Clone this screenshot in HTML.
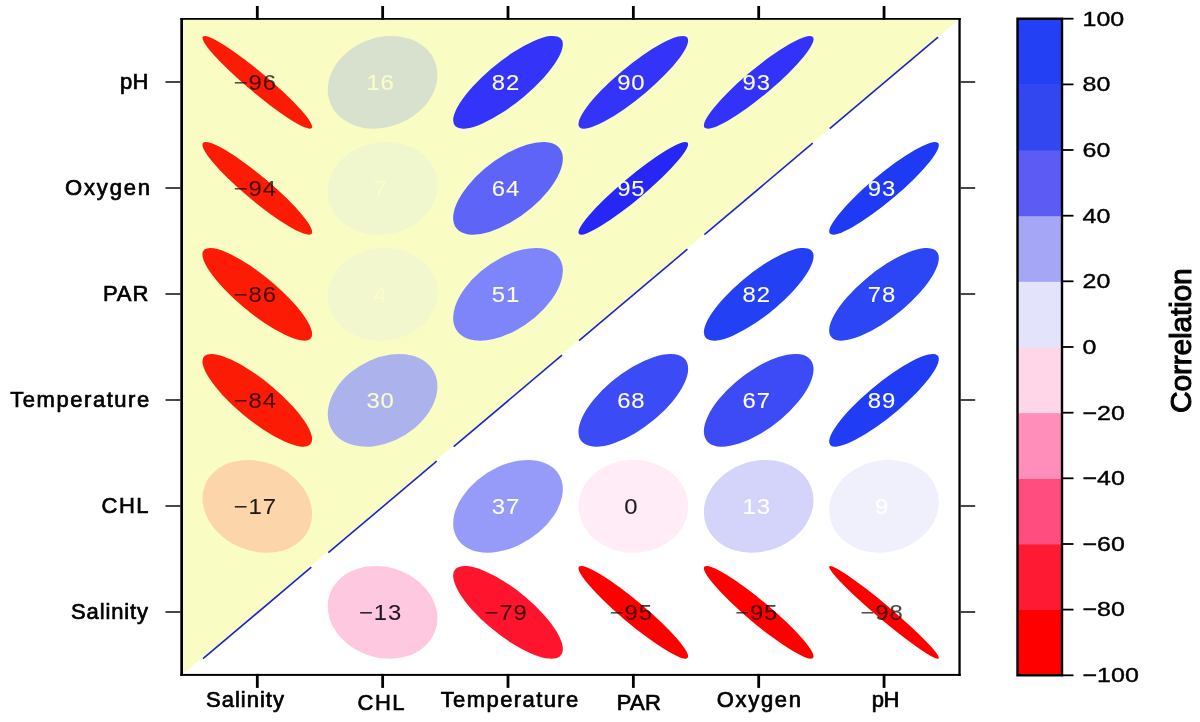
<!DOCTYPE html>
<html><head><meta charset="utf-8"><title>Correlation</title>
<style>html,body{margin:0;padding:0;background:#fff}svg{display:block}</style></head>
<body>
<svg width="1200" height="722" viewBox="0 0 1200 722" font-family="&quot;Liberation Sans&quot;, sans-serif">
<rect width="1200" height="722" fill="#fff"/>
<polygon points="183.0,673.9 183.0,19.8 958.4,19.8" fill="#f9fdc3"/>
<g transform="translate(257.3,82.3) scale(125.35,-106.0) rotate(45)"><ellipse rx="0.0875" ry="0.6125" fill="#fc1c06"/></g>
<g transform="translate(382.6,82.3) scale(125.35,-106.0) rotate(45)"><ellipse rx="0.4712" ry="0.4010" fill="#d7e1cd"/></g>
<g transform="translate(508.0,82.3) scale(125.35,-106.0) rotate(45)"><ellipse rx="0.5902" ry="0.1856" fill="#3333fa"/></g>
<g transform="translate(633.3,82.3) scale(125.35,-106.0) rotate(45)"><ellipse rx="0.6031" ry="0.1383" fill="#3333fa"/></g>
<g transform="translate(758.7,82.3) scale(125.35,-106.0) rotate(45)"><ellipse rx="0.6078" ry="0.1158" fill="#3232fa"/></g>
<g transform="translate(257.3,188.3) scale(125.35,-106.0) rotate(45)"><ellipse rx="0.1072" ry="0.6094" fill="#fc1c06"/></g>
<g transform="translate(382.6,188.3) scale(125.35,-106.0) rotate(45)"><ellipse rx="0.4526" ry="0.4219" fill="#f0f6cd"/></g>
<g transform="translate(508.0,188.3) scale(125.35,-106.0) rotate(45)"><ellipse rx="0.5603" ry="0.2625" fill="#5f64f9"/></g>
<g transform="translate(633.3,188.3) scale(125.35,-106.0) rotate(45)"><ellipse rx="0.6109" ry="0.0978" fill="#2626f6"/></g>
<g transform="translate(884.0,188.3) scale(125.35,-106.0) rotate(45)"><ellipse rx="0.6078" ry="0.1158" fill="#1f3af5"/></g>
<g transform="translate(257.3,294.3) scale(125.35,-106.0) rotate(45)"><ellipse rx="0.1637" ry="0.5967" fill="#fc1c06"/></g>
<g transform="translate(382.6,294.3) scale(125.35,-106.0) rotate(45)"><ellipse rx="0.4462" ry="0.4287" fill="#f2f7cd"/></g>
<g transform="translate(508.0,294.3) scale(125.35,-106.0) rotate(45)"><ellipse rx="0.5376" ry="0.3062" fill="#7e84fa"/></g>
<g transform="translate(758.7,294.3) scale(125.35,-106.0) rotate(45)"><ellipse rx="0.5902" ry="0.1856" fill="#2440f5"/></g>
<g transform="translate(884.0,294.3) scale(125.35,-106.0) rotate(45)"><ellipse rx="0.5837" ry="0.2052" fill="#2d46f5"/></g>
<g transform="translate(257.3,400.3) scale(125.35,-106.0) rotate(45)"><ellipse rx="0.1750" ry="0.5935" fill="#fc1c06"/></g>
<g transform="translate(382.6,400.3) scale(125.35,-106.0) rotate(45)"><ellipse rx="0.4988" ry="0.3660" fill="#acb3ec"/></g>
<g transform="translate(633.3,400.3) scale(125.35,-106.0) rotate(45)"><ellipse rx="0.5671" ry="0.2475" fill="#3b4bf5"/></g>
<g transform="translate(758.7,400.3) scale(125.35,-106.0) rotate(45)"><ellipse rx="0.5654" ry="0.2513" fill="#3c4bf5"/></g>
<g transform="translate(884.0,400.3) scale(125.35,-106.0) rotate(45)"><ellipse rx="0.6015" ry="0.1451" fill="#213cf5"/></g>
<g transform="translate(257.3,506.3) scale(125.35,-106.0) rotate(45)"><ellipse rx="0.3986" ry="0.4732" fill="#fcd6aa"/></g>
<g transform="translate(508.0,506.3) scale(125.35,-106.0) rotate(45)"><ellipse rx="0.5121" ry="0.3473" fill="#969bfa"/></g>
<g transform="translate(633.3,506.3) scale(125.35,-106.0) rotate(45)"><ellipse rx="0.4375" ry="0.4375" fill="#ffecf6"/></g>
<g transform="translate(758.7,506.3) scale(125.35,-106.0) rotate(45)"><ellipse rx="0.4651" ry="0.4081" fill="#d4d4fa"/></g>
<g transform="translate(884.0,506.3) scale(125.35,-106.0) rotate(45)"><ellipse rx="0.4568" ry="0.4173" fill="#f0f0fd"/></g>
<g transform="translate(382.6,612.3) scale(125.35,-106.0) rotate(45)"><ellipse rx="0.4081" ry="0.4651" fill="#ffc8e1"/></g>
<g transform="translate(508.0,612.3) scale(125.35,-106.0) rotate(45)"><ellipse rx="0.2005" ry="0.5853" fill="#ff142d"/></g>
<g transform="translate(633.3,612.3) scale(125.35,-106.0) rotate(45)"><ellipse rx="0.0978" ry="0.6109" fill="#ff0000"/></g>
<g transform="translate(758.7,612.3) scale(125.35,-106.0) rotate(45)"><ellipse rx="0.0978" ry="0.6109" fill="#ff0000"/></g>
<g transform="translate(884.0,612.3) scale(125.35,-106.0) rotate(45)"><ellipse rx="0.0619" ry="0.6156" fill="#ff0000"/></g>
<line x1="203.0" y1="658.7" x2="311.3" y2="567.2" stroke="#1a26c4" stroke-width="1.6"/>
<line x1="328.3" y1="552.7" x2="436.7" y2="461.2" stroke="#1a26c4" stroke-width="1.6"/>
<line x1="453.7" y1="446.7" x2="562.0" y2="355.2" stroke="#1a26c4" stroke-width="1.6"/>
<line x1="579.0" y1="340.7" x2="687.4" y2="249.2" stroke="#1a26c4" stroke-width="1.6"/>
<line x1="704.4" y1="234.7" x2="812.7" y2="143.2" stroke="#1a26c4" stroke-width="1.6"/>
<line x1="829.7" y1="128.7" x2="938.1" y2="37.2" stroke="#1a26c4" stroke-width="1.6"/>
<text transform="translate(255.3,89.7) scale(1.125,1)" text-anchor="middle" font-size="21.2" letter-spacing="0.8" fill="#000000" stroke="#000000" stroke-width="0.1" opacity="0.72">−96</text>
<text transform="translate(380.6,89.7) scale(1.125,1)" text-anchor="middle" font-size="21.2" letter-spacing="0.8" fill="#fafcca" stroke="#fafcca" stroke-width="0.1">16</text>
<text transform="translate(506.0,89.7) scale(1.125,1)" text-anchor="middle" font-size="21.2" letter-spacing="0.8" fill="#fcfce0" stroke="#fcfce0" stroke-width="0.1">82</text>
<text transform="translate(631.3,89.7) scale(1.125,1)" text-anchor="middle" font-size="21.2" letter-spacing="0.8" fill="#fcfce0" stroke="#fcfce0" stroke-width="0.1">90</text>
<text transform="translate(756.7,89.7) scale(1.125,1)" text-anchor="middle" font-size="21.2" letter-spacing="0.8" fill="#fcfce0" stroke="#fcfce0" stroke-width="0.1">93</text>
<text transform="translate(255.3,195.7) scale(1.125,1)" text-anchor="middle" font-size="21.2" letter-spacing="0.8" fill="#000000" stroke="#000000" stroke-width="0.1" opacity="0.72">−94</text>
<text transform="translate(380.6,195.7) scale(1.125,1)" text-anchor="middle" font-size="21.2" letter-spacing="0.8" fill="#fafcca" stroke="#fafcca" stroke-width="0.1">7</text>
<text transform="translate(506.0,195.7) scale(1.125,1)" text-anchor="middle" font-size="21.2" letter-spacing="0.8" fill="#fcfce0" stroke="#fcfce0" stroke-width="0.1">64</text>
<text transform="translate(631.3,195.7) scale(1.125,1)" text-anchor="middle" font-size="21.2" letter-spacing="0.8" fill="#fcfce0" stroke="#fcfce0" stroke-width="0.1">95</text>
<text transform="translate(882.0,195.7) scale(1.125,1)" text-anchor="middle" font-size="21.2" letter-spacing="0.8" fill="#ffffff" stroke="#ffffff" stroke-width="0.1">93</text>
<text transform="translate(255.3,301.7) scale(1.125,1)" text-anchor="middle" font-size="21.2" letter-spacing="0.8" fill="#000000" stroke="#000000" stroke-width="0.1" opacity="0.72">−86</text>
<text transform="translate(380.6,301.7) scale(1.125,1)" text-anchor="middle" font-size="21.2" letter-spacing="0.8" fill="#fafcca" stroke="#fafcca" stroke-width="0.1">4</text>
<text transform="translate(506.0,301.7) scale(1.125,1)" text-anchor="middle" font-size="21.2" letter-spacing="0.8" fill="#fcfce0" stroke="#fcfce0" stroke-width="0.1">51</text>
<text transform="translate(756.7,301.7) scale(1.125,1)" text-anchor="middle" font-size="21.2" letter-spacing="0.8" fill="#ffffff" stroke="#ffffff" stroke-width="0.1">82</text>
<text transform="translate(882.0,301.7) scale(1.125,1)" text-anchor="middle" font-size="21.2" letter-spacing="0.8" fill="#ffffff" stroke="#ffffff" stroke-width="0.1">78</text>
<text transform="translate(255.3,407.7) scale(1.125,1)" text-anchor="middle" font-size="21.2" letter-spacing="0.8" fill="#000000" stroke="#000000" stroke-width="0.1" opacity="0.72">−84</text>
<text transform="translate(380.6,407.7) scale(1.125,1)" text-anchor="middle" font-size="21.2" letter-spacing="0.8" fill="#fafcca" stroke="#fafcca" stroke-width="0.1">30</text>
<text transform="translate(631.3,407.7) scale(1.125,1)" text-anchor="middle" font-size="21.2" letter-spacing="0.8" fill="#ffffff" stroke="#ffffff" stroke-width="0.1">68</text>
<text transform="translate(756.7,407.7) scale(1.125,1)" text-anchor="middle" font-size="21.2" letter-spacing="0.8" fill="#ffffff" stroke="#ffffff" stroke-width="0.1">67</text>
<text transform="translate(882.0,407.7) scale(1.125,1)" text-anchor="middle" font-size="21.2" letter-spacing="0.8" fill="#ffffff" stroke="#ffffff" stroke-width="0.1">89</text>
<text transform="translate(255.3,513.7) scale(1.125,1)" text-anchor="middle" font-size="21.2" letter-spacing="0.8" fill="#000000" stroke="#000000" stroke-width="0.1" opacity="0.88">−17</text>
<text transform="translate(506.0,513.7) scale(1.125,1)" text-anchor="middle" font-size="21.2" letter-spacing="0.8" fill="#ffffff" stroke="#ffffff" stroke-width="0.1">37</text>
<text transform="translate(631.3,513.7) scale(1.125,1)" text-anchor="middle" font-size="21.2" letter-spacing="0.8" fill="#000000" stroke="#000000" stroke-width="0.1" opacity="0.88">0</text>
<text transform="translate(756.7,513.7) scale(1.125,1)" text-anchor="middle" font-size="21.2" letter-spacing="0.8" fill="#ffffff" stroke="#ffffff" stroke-width="0.1">13</text>
<text transform="translate(882.0,513.7) scale(1.125,1)" text-anchor="middle" font-size="21.2" letter-spacing="0.8" fill="#ffffff" stroke="#ffffff" stroke-width="0.1">9</text>
<text transform="translate(380.6,619.7) scale(1.125,1)" text-anchor="middle" font-size="21.2" letter-spacing="0.8" fill="#000000" stroke="#000000" stroke-width="0.1" opacity="0.88">−13</text>
<text transform="translate(506.0,619.7) scale(1.125,1)" text-anchor="middle" font-size="21.2" letter-spacing="0.8" fill="#000000" stroke="#000000" stroke-width="0.1" opacity="0.72">−79</text>
<text transform="translate(631.3,619.7) scale(1.125,1)" text-anchor="middle" font-size="21.2" letter-spacing="0.8" fill="#000000" stroke="#000000" stroke-width="0.1" opacity="0.72">−95</text>
<text transform="translate(756.7,619.7) scale(1.125,1)" text-anchor="middle" font-size="21.2" letter-spacing="0.8" fill="#000000" stroke="#000000" stroke-width="0.1" opacity="0.72">−95</text>
<text transform="translate(882.0,619.7) scale(1.125,1)" text-anchor="middle" font-size="21.2" letter-spacing="0.8" fill="#000000" stroke="#000000" stroke-width="0.1" opacity="0.72">−98</text>
<rect x="180.3" y="18.0" width="2.70" height="657.90" fill="#000"/>
<rect x="958.4" y="18.0" width="2.30" height="657.90" fill="#000"/>
<rect x="180.3" y="18.0" width="780.40" height="1.80" fill="#000"/>
<rect x="180.3" y="673.9" width="780.40" height="2.00" fill="#000"/>
<line x1="257.30" y1="6.0" x2="257.30" y2="19.8" stroke="#000" stroke-width="2.8"/>
<line x1="257.30" y1="673.9" x2="257.30" y2="687.9" stroke="#000" stroke-width="2.8"/>
<line x1="165.5" y1="612.00" x2="180.5" y2="612.00" stroke="#1a1a1a" stroke-width="1.6"/>
<line x1="960.5" y1="612.00" x2="975.2" y2="612.00" stroke="#1a1a1a" stroke-width="1.6"/>
<line x1="382.65" y1="6.0" x2="382.65" y2="19.8" stroke="#000" stroke-width="2.8"/>
<line x1="382.65" y1="673.9" x2="382.65" y2="687.9" stroke="#000" stroke-width="2.8"/>
<line x1="165.5" y1="506.00" x2="180.5" y2="506.00" stroke="#1a1a1a" stroke-width="1.6"/>
<line x1="960.5" y1="506.00" x2="975.2" y2="506.00" stroke="#1a1a1a" stroke-width="1.6"/>
<line x1="508.00" y1="6.0" x2="508.00" y2="19.8" stroke="#000" stroke-width="2.8"/>
<line x1="508.00" y1="673.9" x2="508.00" y2="687.9" stroke="#000" stroke-width="2.8"/>
<line x1="165.5" y1="400.00" x2="180.5" y2="400.00" stroke="#1a1a1a" stroke-width="1.6"/>
<line x1="960.5" y1="400.00" x2="975.2" y2="400.00" stroke="#1a1a1a" stroke-width="1.6"/>
<line x1="633.35" y1="6.0" x2="633.35" y2="19.8" stroke="#000" stroke-width="2.8"/>
<line x1="633.35" y1="673.9" x2="633.35" y2="687.9" stroke="#000" stroke-width="2.8"/>
<line x1="165.5" y1="294.00" x2="180.5" y2="294.00" stroke="#1a1a1a" stroke-width="1.6"/>
<line x1="960.5" y1="294.00" x2="975.2" y2="294.00" stroke="#1a1a1a" stroke-width="1.6"/>
<line x1="758.70" y1="6.0" x2="758.70" y2="19.8" stroke="#000" stroke-width="2.8"/>
<line x1="758.70" y1="673.9" x2="758.70" y2="687.9" stroke="#000" stroke-width="2.8"/>
<line x1="165.5" y1="188.00" x2="180.5" y2="188.00" stroke="#1a1a1a" stroke-width="1.6"/>
<line x1="960.5" y1="188.00" x2="975.2" y2="188.00" stroke="#1a1a1a" stroke-width="1.6"/>
<line x1="884.05" y1="6.0" x2="884.05" y2="19.8" stroke="#000" stroke-width="2.8"/>
<line x1="884.05" y1="673.9" x2="884.05" y2="687.9" stroke="#000" stroke-width="2.8"/>
<line x1="165.5" y1="82.00" x2="180.5" y2="82.00" stroke="#1a1a1a" stroke-width="1.6"/>
<line x1="960.5" y1="82.00" x2="975.2" y2="82.00" stroke="#1a1a1a" stroke-width="1.6"/>
<text transform="translate(71.00,619.20) scale(1.0000,1)" font-size="22" letter-spacing="0.882" fill="#000" stroke="#000" stroke-width="0.7">Salinity</text>
<text transform="translate(206.00,707.00) scale(1.0000,1)" font-size="22" letter-spacing="1.010" fill="#000" stroke="#000" stroke-width="0.7">Salinity</text>
<text transform="translate(101.50,513.20) scale(1.0000,1)" font-size="22" letter-spacing="1.489" fill="#000" stroke="#000" stroke-width="0.7">CHL</text>
<text transform="translate(357.60,710.00) scale(1.0000,1)" font-size="22" letter-spacing="1.389" fill="#000" stroke="#000" stroke-width="0.7">CHL</text>
<text transform="translate(10.30,407.20) scale(1.0000,1)" font-size="22" letter-spacing="1.539" fill="#000" stroke="#000" stroke-width="0.7">Temperature</text>
<text transform="translate(440.70,706.70) scale(1.0000,1)" font-size="22" letter-spacing="1.409" fill="#000" stroke="#000" stroke-width="0.7">Temperature</text>
<text transform="translate(102.90,301.20) scale(1.0000,1)" font-size="22" letter-spacing="0.898" fill="#000" stroke="#000" stroke-width="0.7">PAR</text>
<text transform="translate(616.70,710.00) scale(1.0000,1)" font-size="22" letter-spacing="0.348" fill="#000" stroke="#000" stroke-width="0.7">PAR</text>
<text transform="translate(65.00,195.20) scale(1.0000,1)" font-size="22" letter-spacing="1.838" fill="#000" stroke="#000" stroke-width="0.7">Oxygen</text>
<text transform="translate(716.70,706.50) scale(1.0000,1)" font-size="22" letter-spacing="1.698" fill="#000" stroke="#000" stroke-width="0.7">Oxygen</text>
<text transform="translate(120.00,89.20) scale(1.0000,1)" font-size="22" letter-spacing="0.184" fill="#000" stroke="#000" stroke-width="0.7">pH</text>
<text transform="translate(871.70,706.50) scale(1.0000,1)" font-size="22" letter-spacing="-0.516" fill="#000" stroke="#000" stroke-width="0.7">pH</text>
<rect x="1018" y="609.64" width="43" height="66.16" fill="#ff0000"/>
<rect x="1018" y="543.98" width="43" height="66.16" fill="#ff1a33"/>
<rect x="1018" y="478.32" width="43" height="66.16" fill="#ff4d7f"/>
<rect x="1018" y="412.66" width="43" height="66.16" fill="#ff8fba"/>
<rect x="1018" y="347.00" width="43" height="66.16" fill="#ffd6e7"/>
<rect x="1018" y="281.34" width="43" height="66.16" fill="#e3e3fb"/>
<rect x="1018" y="215.68" width="43" height="66.16" fill="#a6a6f7"/>
<rect x="1018" y="150.02" width="43" height="66.16" fill="#5c5cf5"/>
<rect x="1018" y="84.36" width="43" height="66.16" fill="#3347f0"/>
<rect x="1018" y="18.70" width="43" height="66.16" fill="#2440f5"/>
<rect x="1017.5" y="18.7" width="44.5" height="656.5999999999999" fill="none" stroke="#000" stroke-width="2.4"/>
<line x1="1062" y1="675.3" x2="1073.5" y2="675.3" stroke="#000" stroke-width="1.8"/>
<text transform="translate(1082.5,682.1) scale(1.19,1)" font-size="21" fill="#000" stroke="#000" stroke-width="0.4">−100</text>
<line x1="1062" y1="609.6" x2="1073.5" y2="609.6" stroke="#000" stroke-width="1.8"/>
<text transform="translate(1082.5,616.4) scale(1.19,1)" font-size="21" fill="#000" stroke="#000" stroke-width="0.4">−80</text>
<line x1="1062" y1="544.0" x2="1073.5" y2="544.0" stroke="#000" stroke-width="1.8"/>
<text transform="translate(1082.5,550.8) scale(1.19,1)" font-size="21" fill="#000" stroke="#000" stroke-width="0.4">−60</text>
<line x1="1062" y1="478.3" x2="1073.5" y2="478.3" stroke="#000" stroke-width="1.8"/>
<text transform="translate(1082.5,485.1) scale(1.19,1)" font-size="21" fill="#000" stroke="#000" stroke-width="0.4">−40</text>
<line x1="1062" y1="412.7" x2="1073.5" y2="412.7" stroke="#000" stroke-width="1.8"/>
<text transform="translate(1082.5,419.5) scale(1.19,1)" font-size="21" fill="#000" stroke="#000" stroke-width="0.4">−20</text>
<line x1="1062" y1="347.0" x2="1073.5" y2="347.0" stroke="#000" stroke-width="1.8"/>
<text transform="translate(1082.5,353.8) scale(1.19,1)" font-size="21" fill="#000" stroke="#000" stroke-width="0.4">0</text>
<line x1="1062" y1="281.3" x2="1073.5" y2="281.3" stroke="#000" stroke-width="1.8"/>
<text transform="translate(1082.5,288.1) scale(1.19,1)" font-size="21" fill="#000" stroke="#000" stroke-width="0.4">20</text>
<line x1="1062" y1="215.7" x2="1073.5" y2="215.7" stroke="#000" stroke-width="1.8"/>
<text transform="translate(1082.5,222.5) scale(1.19,1)" font-size="21" fill="#000" stroke="#000" stroke-width="0.4">40</text>
<line x1="1062" y1="150.0" x2="1073.5" y2="150.0" stroke="#000" stroke-width="1.8"/>
<text transform="translate(1082.5,156.8) scale(1.19,1)" font-size="21" fill="#000" stroke="#000" stroke-width="0.4">60</text>
<line x1="1062" y1="84.4" x2="1073.5" y2="84.4" stroke="#000" stroke-width="1.8"/>
<text transform="translate(1082.5,91.2) scale(1.19,1)" font-size="21" fill="#000" stroke="#000" stroke-width="0.4">80</text>
<line x1="1062" y1="18.7" x2="1073.5" y2="18.7" stroke="#000" stroke-width="1.8"/>
<text transform="translate(1082.5,25.5) scale(1.19,1)" font-size="21" fill="#000" stroke="#000" stroke-width="0.4">100</text>
<text transform="translate(1191.0,340.8) scale(1.0,1) rotate(-90)" text-anchor="middle" font-size="30" letter-spacing="-0.2" fill="#000" stroke="#000" stroke-width="1.0">Correlation</text>
</svg>
</body></html>
